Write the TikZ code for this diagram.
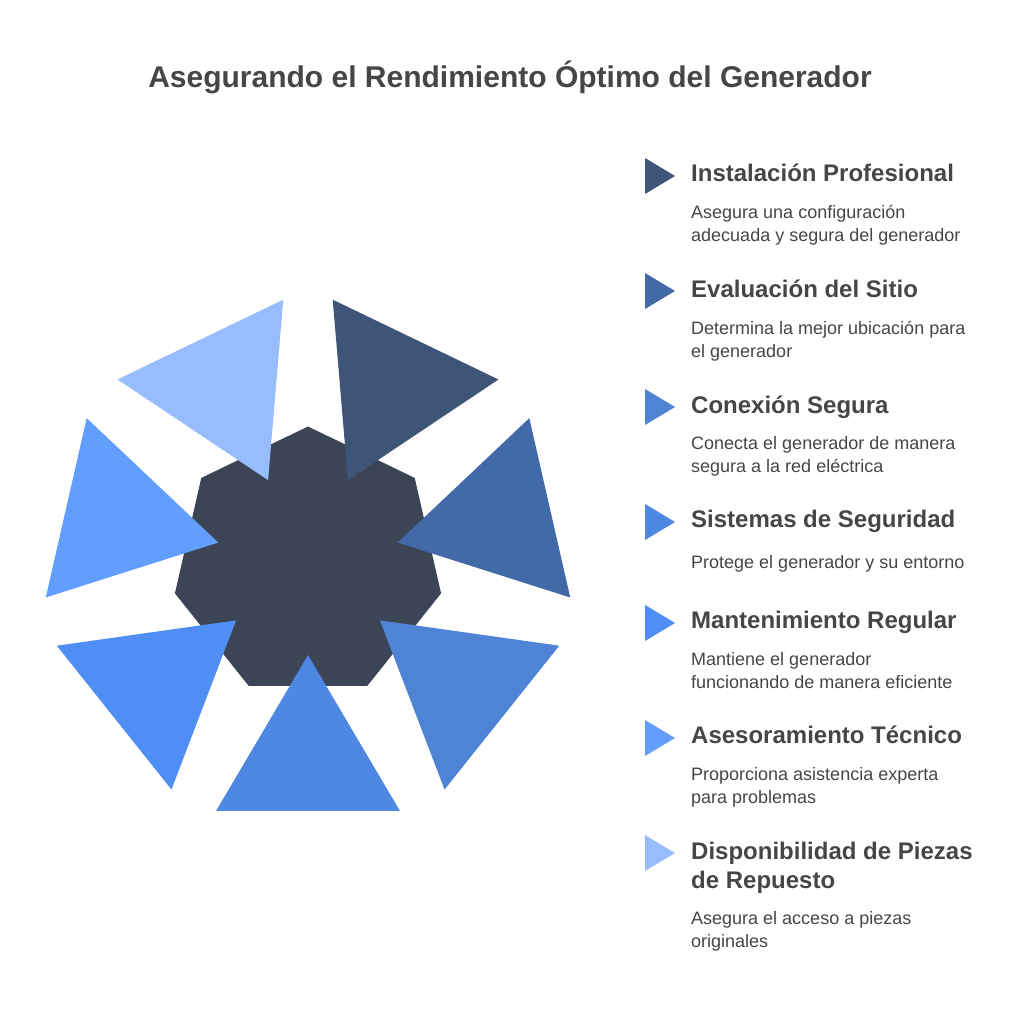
\documentclass[tikz,border=0pt]{standalone}
\usepackage{fontspec}
\setmainfont{Liberation Sans}
\usetikzlibrary{calc}
\definecolor{hept}{HTML}{3C4556}
\definecolor{cA}{HTML}{3F5578}
\definecolor{cB}{HTML}{426AA9}
\definecolor{cC}{HTML}{4F83D4}
\definecolor{cD}{HTML}{4F88E2}
\definecolor{cE}{HTML}{4F8EF4}
\definecolor{cF}{HTML}{619EFE}
\definecolor{cG}{HTML}{97BDFE}
\definecolor{txt}{HTML}{464646}
\tikzset{
  titletext/.style={inner sep=0pt, text=txt, font=\fontsize{30}{36}\selectfont\bfseries, anchor=base},
  headtext/.style={inner sep=0pt, text=txt, font=\fontsize{24}{29}\selectfont\bfseries, anchor=base west},
  desctext/.style={inner sep=0pt, text=txt, font=\fontsize{18}{23}\selectfont, anchor=base west},
}
\newcommand{\wedgetri}[2]{%
  \fill[#2] ([shift={(#1:92pt)}]ctr) -- ([shift={(#1+20.35:264.5pt)}]ctr) -- ([shift={(#1-20.35:264.5pt)}]ctr) -- cycle;}
\newcommand{\marker}[2]{%
  \fill[#2] (645,#1-18) -- (675,#1) -- (645,#1+18) -- cycle;}
\begin{document}
\begin{tikzpicture}[x=1pt,y=-1pt]
\useasboundingbox (0,0) rectangle (1020,1024);
\fill[white] (0,0) rectangle (1020,1024);
\node[titletext] (title) at (510,88) {Asegurando el Rendimiento Óptimo del Generador};
\coordinate (ctr) at (308,563);
% heptagon
\fill[hept] ([shift={(90:136.5pt)}]ctr)
  \foreach \k in {1,...,6} { -- ([shift={(90+\k*51.4286:136.5pt)}]ctr) } -- cycle;
% triangles
\wedgetri{64.2857}{cA}
\wedgetri{12.8571}{cB}
\wedgetri{-38.5714}{cC}
\wedgetri{-90}{cD}
\wedgetri{-141.4286}{cE}
\wedgetri{167.1429}{cF}
\wedgetri{115.7143}{cG}
% legend
\marker{176}{cA}
\node[headtext] (h1) at (691,181.5) {Instalación Profesional};
\node[desctext] (d1a) at (691,218.5) {Asegura una configuración};
\node[desctext] (d1b) at (691,241.5) {adecuada y segura del generador};
\marker{291}{cB}
\node[headtext] (h2) at (691,297.5) {Evaluación del Sitio};
\node[desctext] (d2a) at (691,334.5) {Determina la mejor ubicación para};
\node[desctext] (d2b) at (691,357) {el generador};
\marker{407}{cC}
\node[headtext] (h3) at (691,413.5) {Conexión Segura};
\node[desctext] (d3a) at (691,449.7) {Conecta el generador de manera};
\node[desctext] (d3b) at (691,472) {segura a la red eléctrica};
\marker{522}{cD}
\node[headtext] (h4) at (691,527.6) {Sistemas de Seguridad};
\node[desctext] (d4a) at (691,568.7) {Protege el generador y su entorno};
\marker{623}{cE}
\node[headtext] (h5) at (691,628.6) {Mantenimiento Regular};
\node[desctext] (d5a) at (691,665.7) {Mantiene el generador};
\node[desctext] (d5b) at (691,688) {funcionando de manera eficiente};
\marker{738}{cF}
\node[headtext] (h6) at (691,743.6) {Asesoramiento Técnico};
\node[desctext] (d6a) at (691,780.7) {Proporciona asistencia experta};
\node[desctext] (d6b) at (691,803.7) {para problemas};
\marker{853}{cG}
\node[headtext] (h7a) at (691,859.6) {Disponibilidad de Piezas};
\node[headtext] (h7b) at (691,888.6) {de Repuesto};
\node[desctext] (d7a) at (691,924.7) {Asegura el acceso a piezas};
\node[desctext] (d7b) at (691,947) {originales};
\end{tikzpicture}
\end{document}
